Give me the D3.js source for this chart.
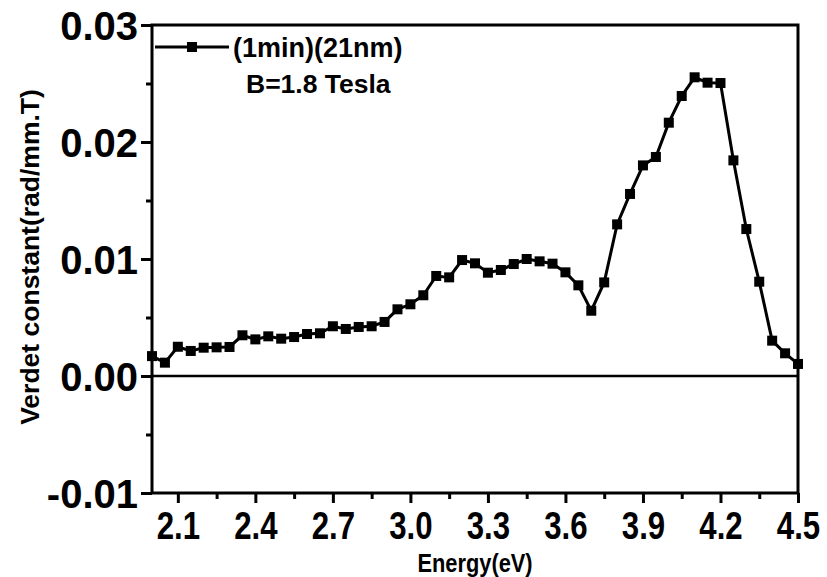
<!DOCTYPE html>
<html>
<head>
<meta charset="utf-8">
<script src="https://cdn.jsdelivr.net/npm/d3@7"></script>
<style>
  body { margin: 0; background: #fff; }
  svg { display: block; font-family: "Liberation Sans", Arial, sans-serif; font-weight: bold; }
</style>
</head>
<body>
<svg id="chart" width="827" height="577"></svg>
<script>
const energy = [
  2.00, 2.05, 2.10, 2.15, 2.20, 2.25, 2.30, 2.35, 2.40, 2.45,
  2.50, 2.55, 2.60, 2.65, 2.70, 2.75, 2.80, 2.85, 2.90, 2.95,
  3.00, 3.05, 3.10, 3.15, 3.20, 3.25, 3.30, 3.35, 3.40, 3.45,
  3.50, 3.55, 3.60, 3.65, 3.70, 3.75, 3.80, 3.85, 3.90, 3.95,
  4.00, 4.05, 4.10, 4.15, 4.20, 4.25, 4.30, 4.35, 4.40, 4.45, 4.50
];
const verdet = [
  0.0017, 0.00114, 0.0025, 0.00214, 0.00242, 0.00245, 0.00248, 0.00348, 0.00313, 0.00339,
  0.00319, 0.00333, 0.00359, 0.00365, 0.00425, 0.00402, 0.00419, 0.00425, 0.00462, 0.0057,
  0.00613, 0.0069, 0.00855, 0.00843, 0.00991, 0.00963, 0.00883, 0.00906, 0.00957, 0.0100,
  0.0098, 0.0096, 0.00886, 0.00775, 0.00558, 0.0080, 0.01296, 0.01556, 0.0180, 0.01872,
  0.02165, 0.02393, 0.02553, 0.02507, 0.02504, 0.01843, 0.01256, 0.00806, 0.00302, 0.00194, 0.00103
];
const xTicks = [2.1, 2.4, 2.7, 3.0, 3.3, 3.6, 3.9, 4.2, 4.5];
const xMinor = [2.25, 2.55, 2.85, 3.15, 3.45, 3.75, 4.05, 4.35];
const yTicks = [-0.01, 0.00, 0.01, 0.02, 0.03];
const yMinor = [-0.005, 0.005, 0.015, 0.025];
const seriesName = "(1min)(21nm)";
const note = "B=1.8 Tesla";

const svg = d3.select("#chart");
const plot = { left: 152, right: 798, top: 25, bottom: 493 };

const x = d3.scaleLinear().domain([2.0, 4.5]).range([plot.left, plot.right]);
const y = d3.scaleLinear().domain([-0.01, 0.03]).range([plot.bottom, plot.top]);

// minor ticks
svg.append("g")
  .attr("transform", `translate(0,${plot.bottom})`)
  .call(d3.axisBottom(x).tickValues(xMinor).tickSize(6).tickSizeOuter(0).tickFormat(""))
  .call(g => g.select(".domain").remove())
  .call(g => g.selectAll("line").attr("stroke-width", 3));

svg.append("g")
  .attr("transform", `translate(${plot.left},0)`)
  .call(d3.axisLeft(y).tickValues(yMinor).tickSize(6).tickSizeOuter(0).tickFormat(""))
  .call(g => g.select(".domain").remove())
  .call(g => g.selectAll("line").attr("stroke-width", 3));

// major x
const xAxis = svg.append("g")
  .attr("transform", `translate(0,${plot.bottom})`)
  .call(d3.axisBottom(x).tickValues(xTicks).tickSize(10).tickSizeOuter(0).tickFormat(d => d.toFixed(1)))
  .call(g => g.select(".domain").remove());
xAxis.selectAll("line").attr("stroke-width", 3);
xAxis.selectAll("text")
  .attr("y", null).attr("dy", null)
  .attr("transform", "translate(0,46) scale(0.8,1)")
  .attr("font-size", 39)
  .attr("font-family", "Liberation Sans, Arial, sans-serif")
  .attr("font-weight", "bold")
  .attr("fill", "#000");

// major y
const yAxis = svg.append("g")
  .attr("transform", `translate(${plot.left},0)`)
  .call(d3.axisLeft(y).tickValues(yTicks).tickSize(11).tickSizeOuter(0).tickPadding(3).tickFormat(d => d.toFixed(2)))
  .call(g => g.select(".domain").remove());
yAxis.selectAll("line").attr("stroke-width", 3);
yAxis.selectAll("text")
  .attr("dy", "0.36em")
  .attr("font-size", 40)
  .attr("font-family", "Liberation Sans, Arial, sans-serif")
  .attr("font-weight", "bold")
  .attr("fill", "#000");

// frame
svg.append("rect")
  .attr("x", plot.left).attr("y", plot.top)
  .attr("width", plot.right - plot.left).attr("height", plot.bottom - plot.top)
  .attr("fill", "none").attr("stroke", "#000").attr("stroke-width", 3);

// zero line
svg.append("line")
  .attr("x1", plot.left).attr("x2", plot.right)
  .attr("y1", y(0)).attr("y2", y(0))
  .attr("stroke", "#000").attr("stroke-width", 2.5);

const data = energy.map((e, i) => ({ e, v: verdet[i] }));

svg.append("path")
  .datum(data)
  .attr("fill", "none")
  .attr("stroke", "#000")
  .attr("stroke-width", 3)
  .attr("d", d3.line().x(d => x(d.e)).y(d => y(d.v)));

const ms = 10;
svg.append("g").selectAll("rect")
  .data(data)
  .join("rect")
  .attr("x", d => x(d.e) - ms / 2)
  .attr("y", d => y(d.v) - ms / 2)
  .attr("width", ms).attr("height", ms)
  .attr("fill", "#000");

// legend
svg.append("line")
  .attr("x1", 155).attr("x2", 229).attr("y1", 47).attr("y2", 47)
  .attr("stroke", "#000").attr("stroke-width", 3);
svg.append("rect")
  .attr("x", 192 - ms / 2).attr("y", 47 - ms / 2)
  .attr("width", ms).attr("height", ms).attr("fill", "#000");
svg.append("text")
  .attr("x", 233).attr("y", 57)
  .attr("font-size", 27)
  .text(seriesName);
svg.append("text")
  .attr("x", 246).attr("y", 93)
  .attr("font-size", 26.5)
  .text(note);

// axis titles
svg.append("text")
  .attr("transform", `translate(475,572) scale(0.84,1)`)
  .attr("text-anchor", "middle")
  .attr("font-size", 26)
  .text("Energy(eV)");

svg.append("text")
  .attr("transform", `translate(39,257) rotate(-90)`)
  .attr("text-anchor", "middle")
  .attr("font-size", 26.5)
  .text("Verdet constant(rad/mm.T)");
</script>
</body>
</html>
